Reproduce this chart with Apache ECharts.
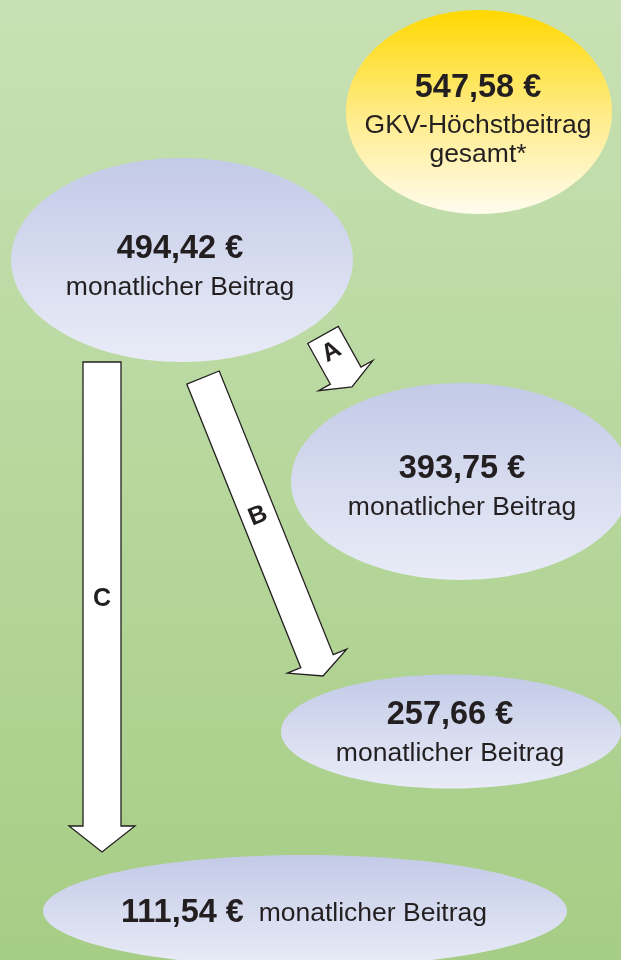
<!DOCTYPE html>
<html><head><meta charset="utf-8">
<script src="https://cdn.jsdelivr.net/npm/echarts@6/dist/echarts.min.js"></script>
<style>html,body{margin:0;padding:0;background:#b8d89c}#c{width:621px;height:960px}</style>
</head><body><div id="c"></div>
<script>
// ---- data ----
const amounts = [547.58, 494.42, 393.75, 257.66, 111.54];
const captions = [
  ['GKV-Höchstbeitrag', 'gesamt*'],
  ['monatlicher Beitrag'],
  ['monatlicher Beitrag'],
  ['monatlicher Beitrag'],
  ['monatlicher Beitrag']
];
const arrowLetters = ['A', 'B', 'C'];
const arrowFrom = [1, 1, 1];
const arrowTo = [2, 3, 4];

// ---- layout (positions / sizes, canvas units on hidden axes) ----
const bubbleLayout = [
  {cx: 479, cy: 112, rx: 133, ry: 102, tx: 478, lines: [88.5, 125.5, 155], gold: true},
  {cx: 182, cy: 260, rx: 171, ry: 102, tx: 180, lines: [249, 288]},
  {cx: 461, cy: 481.5, rx: 170, ry: 98.5, tx: 462, lines: [469.5, 508]},
  {cx: 451, cy: 731.5, rx: 170, ry: 57, tx: 450, lines: [715, 754]},
  {cx: 305, cy: 911, rx: 262, ry: 56, tx: 304, lines: [913.5], inline: true}
];
const arrowLayout = [
  {tail: [323, 335], tip: [352, 387], shaft: 35, head: 62, headLen: 13, label: [331.5, 352]},
  {tail: [203, 377.5], tip: [323, 676], shaft: 35, head: 64, headLen: 16, label: [258, 516]},
  {tail: [102, 362], tip: [102, 852], shaft: 38, head: 66, headLen: 26, label: [102, 599]}
];

const FONT = "'Liberation Sans', Arial, Helvetica, sans-serif";
const BOLD = 'bold 32.5px ' + FONT;
const REG = '26.5px ' + FONT;
const INK = '#231f20';
const fmt = v => v.toFixed(2).replace('.', ',') + ' €';

const chart = echarts.init(document.getElementById('c'), null, {renderer: 'canvas'});

function bubbleItem(params, api) {
  const i = api.value(3);
  const L = bubbleLayout[i];
  const c = api.coord([L.cx, L.cy]);
  const s = api.size([L.rx, L.ry]);
  const fill = L.gold
    ? new echarts.graphic.LinearGradient(0, 0, 0, 1, [
        {offset: 0, color: '#ffd800'}, {offset: 0.5, color: '#ffeb85'}, {offset: 1, color: '#fffcee'}])
    : new echarts.graphic.LinearGradient(0, 0, 0, 1, [
        {offset: 0, color: '#c3cae7'}, {offset: 1, color: '#e9ecf7'}]);
  const children = [{type: 'ellipse', shape: {cx: c[0], cy: c[1], rx: s[0], ry: s[1]}, style: {fill: fill}}];
  const label = fmt(amounts[i]);
  if (L.inline) {
    const p = api.coord([L.tx, L.lines[0]]);
    children.push({type: 'text', x: p[0], y: p[1], style: {
      text: '{b|' + label + '}{n|  ' + captions[i][0] + '}',
      align: 'center', verticalAlign: 'middle', fill: INK,
      rich: {b: {font: BOLD, fill: INK}, n: {font: REG, fill: INK}}
    }});
  } else {
    const lines = [label].concat(captions[i]);
    lines.forEach((t, k) => {
      const p = api.coord([L.tx, L.lines[k]]);
      children.push({type: 'text', x: p[0], y: p[1], style: {
        text: t, font: k === 0 ? BOLD : REG, fill: INK, align: 'center', verticalAlign: 'middle'
      }});
    });
  }
  return {type: 'group', children: children};
}

function arrowItem(params, api) {
  const j = api.value(2);
  const A = arrowLayout[j];
  const dx = A.tip[0] - A.tail[0], dy = A.tip[1] - A.tail[1];
  const len = Math.sqrt(dx * dx + dy * dy);
  const ux = dx / len, uy = dy / len;
  const px = -uy, py = ux;
  const bx = A.tip[0] - ux * A.headLen, by = A.tip[1] - uy * A.headLen;
  const pts = [
    [A.tail[0] + px * A.shaft / 2, A.tail[1] + py * A.shaft / 2],
    [bx + px * A.shaft / 2, by + py * A.shaft / 2],
    [bx + px * A.head / 2, by + py * A.head / 2],
    [A.tip[0], A.tip[1]],
    [bx - px * A.head / 2, by - py * A.head / 2],
    [bx - px * A.shaft / 2, by - py * A.shaft / 2],
    [A.tail[0] - px * A.shaft / 2, A.tail[1] - py * A.shaft / 2]
  ].map(q => api.coord(q));
  const lp = api.coord(A.label);
  const rot = Math.atan2(dx, dy);
  return {type: 'group', children: [
    {type: 'polygon', shape: {points: pts}, style: {fill: '#ffffff', stroke: INK, lineWidth: 1.3, lineJoin: 'miter'}},
    {type: 'text', x: lp[0], y: lp[1], rotation: rot, style: {
      text: arrowLetters[j], font: 'bold 25px ' + FONT, fill: INK, align: 'center', verticalAlign: 'middle'}}
  ]};
}

chart.setOption({
  animation: false,
  graphic: [{
    type: 'rect', left: 0, top: 0, z: -10,
    shape: {width: 621, height: 960},
    style: {fill: new echarts.graphic.LinearGradient(0, 0, 0, 1, [
      {offset: 0, color: '#c8e1b4'}, {offset: 1, color: '#a6cd85'}])}
  }],
  grid: {left: 0, right: 0, top: 0, bottom: 0},
  xAxis: {type: 'value', min: 0, max: 621, show: false},
  yAxis: {type: 'value', min: 0, max: 960, inverse: true, show: false},
  series: [
    {
      type: 'custom', name: 'Beiträge', renderItem: bubbleItem,
      data: amounts.map((v, i) => [bubbleLayout[i].cx, bubbleLayout[i].cy, v, i])
    },
    {
      type: 'custom', name: 'Tarifwechsel', renderItem: arrowItem, z: 3,
      data: arrowLetters.map((l, j) => [arrowFrom[j], arrowTo[j], j])
    }
  ]
});
</script></body></html>
